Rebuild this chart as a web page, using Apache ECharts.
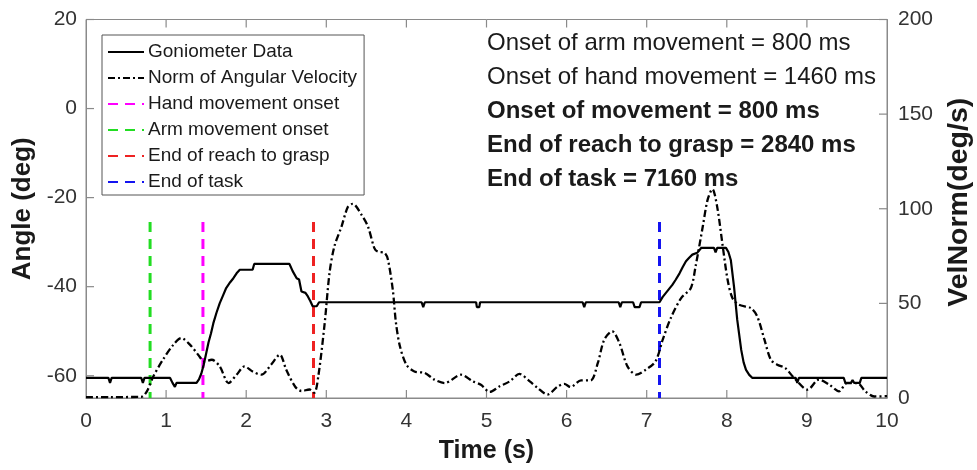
<!DOCTYPE html>
<html>
<head>
<meta charset="utf-8">
<script src="https://cdn.jsdelivr.net/npm/echarts@6/dist/echarts.min.js"></script>
<style>
  html, body { margin: 0; padding: 0; background: #fff; }
  #chart { width: 977px; height: 470px; }
</style>
</head>
<body>
<div id="chart"></div>
<script>
// goniometer angle (deg), left axis
var gonioT = [0, 0.28, 0.30, 0.32, 0.69, 0.71, 0.73, 1.05, 1.08, 1.10, 1.11, 1.13, 1.38, 1.41, 1.44, 1.47, 1.50, 1.53, 1.56, 1.59, 1.63, 1.67, 1.71, 1.75, 1.80, 1.84, 1.88, 1.92, 2.08, 2.10, 2.54, 2.58, 2.63, 2.66, 2.69, 2.74, 2.77, 2.80, 2.83, 2.88, 2.91,
  4.19, 4.21, 4.23, 4.87, 4.88, 4.91, 4.92, 6.20, 6.22, 6.24, 6.65, 6.67, 6.69, 6.83, 6.85, 6.91, 6.93, 7.16,
  7.20, 7.24, 7.28, 7.32, 7.36, 7.41, 7.45, 7.49, 7.53, 7.57, 7.63, 7.68, 7.84, 7.86, 7.88, 7.99, 8.02, 8.05, 8.09, 8.13, 8.18, 8.21, 8.24, 8.28, 8.32,
  8.86, 8.88, 8.90, 9.46, 9.48, 9.55, 9.57, 9.59, 9.66, 9.68, 10.0];
var gonioA = [-60.5, -60.5, -61.6, -60.5, -60.5, -61.6, -60.5, -60.5, -61.6, -61.6, -62.5, -61.6, -61.6, -60.8, -59.5, -57.5, -55, -52.5, -50.5, -48.2, -45.8, -43.7, -42, -40.3, -39, -38.1, -37, -36.2, -36.2, -34.9, -34.9, -36.5, -38.1, -38.4, -41.1, -41.4, -42.2, -43.2, -44.4, -44.4, -43.5,
  -43.5, -44.6, -43.5, -43.5, -44.6, -44.6, -43.5, -43.5, -44.6, -43.5, -43.5, -44.6, -43.5, -43.5, -44.6, -44.6, -43.5, -43.5,
  -42.3, -41.4, -40.5, -39.6, -38.5, -37, -35.6, -34.3, -33.5, -32.8, -32.4, -31.3, -31.3, -32.3, -31.3, -31.3, -32.2, -34, -40, -47.4, -54.2, -57, -58.7, -59.8, -60.5,
  -60.5, -61.6, -60.5, -60.5, -61.6, -61.6, -61, -61.6, -61.6, -60.5, -60.5];

// norm of angular velocity (deg/s), right axis
var velT = [0, 0.3, 0.69, 0.76, 0.84, 0.96, 1.09, 1.19, 1.30, 1.40, 1.48, 1.57, 1.67, 1.78, 1.88, 1.98, 2.08, 2.19, 2.31, 2.42, 2.50, 2.61, 2.69, 2.79, 2.85, 2.90, 2.98, 3.04, 3.10, 3.19, 3.27, 3.33, 3.44, 3.52, 3.60, 3.64, 3.73, 3.77, 3.83, 3.87, 3.92, 4.00, 4.10, 4.23, 4.35, 4.48, 4.68, 4.83, 4.93, 5.04, 5.16, 5.29, 5.41, 5.54, 5.64, 5.76, 5.89, 5.97, 6.05, 6.18, 6.30, 6.39, 6.47, 6.57, 6.66, 6.76, 6.87, 6.99, 7.11, 7.20, 7.30, 7.43, 7.55, 7.61, 7.70, 7.76, 7.82, 7.88, 7.95, 8.01, 8.07, 8.15, 8.30, 8.38, 8.47, 8.55, 8.63, 8.73, 8.84, 9.01, 9.15, 9.28, 9.40, 9.50, 9.63, 9.73, 9.84, 10.0];
var velV = [0.5, 0.5, 0.6, 3.5, 11.4, 20.2, 28.1, 31.7, 28.1, 22.9, 19.3, 20.2, 16.7, 7.9, 12.3, 16.7, 14, 12.3, 17.6, 22.9, 14.9, 6.1, 3.7, 4.5, 2.8, 11.4, 39.6, 66, 80, 90.6, 101, 102.6, 96.8, 90.6, 79.2, 77.4, 76.6, 73, 57.2, 39.6, 27.2, 17.6, 14, 13.2, 9.7, 7.9, 12.3, 8.8, 7, 3.2, 6.1, 8.8, 12.7, 8.8, 5.3, 1.8, 6.1, 7.5, 5.8, 9.3, 9.3, 18.5, 30.8, 35.2, 29, 16.7, 12.3, 15, 19.3, 30.8, 42.2, 52.8, 58, 69.5, 90.6, 104.7, 110.4, 101, 80, 62.5, 52.8, 49.3, 47.5, 43.1, 30.8, 20.2, 17.6, 15.8, 10.6, 4.4, 9.7, 7, 3.5, 7.9, 7.9, 3.5, 0.8, 1];

// event markers (s)
var markerNames = ['Hand movement onset', 'Arm movement onset', 'End of reach to grasp', 'End of task'];
var markerTimes = [1.46, 0.8, 2.84, 7.16];
var markerColors = ['#ff00ff', '#22dd22', '#ee2222', '#1414f0'];
var markerTop = -25.5;

// tick positions (inward ticks, matlab style)
var timeTicks = [1, 2, 3, 4, 5, 6, 7, 8, 9];
var angleTicks = [-60, -40, -20, 0, 20];
var velTicks = [0, 50, 100, 150, 200];

var infoLines = [
    'Onset of arm movement = 800 ms',
    'Onset of hand movement = 1460 ms',
    'Onset of movement = 800 ms',
    'End of reach to grasp = 2840 ms',
    'End of task = 7160 ms'
];
var infoBold = [false, false, true, true, true];

var FONT = '"Liberation Sans", Arial, sans-serif';
var axisGray = '#8a8a8a';
var TICK = 8;
var chart = echarts.init(document.getElementById('chart'));

var series = [
    {
        name: 'Goniometer Data',
        type: 'line',
        yAxisIndex: 0,
        symbol: 'none',
        data: gonioT.map(function (t, i) { return [t, gonioA[i]]; }),
        lineStyle: { color: '#000', width: 2.2 },
        itemStyle: { color: '#000' },
        z: 4
    },
    {
        name: 'Norm of Angular Velocity',
        type: 'line',
        yAxisIndex: 1,
        symbol: 'none',
        smooth: 0.3,
        data: velT.map(function (t, i) { return [t, velV[i]]; }),
        lineStyle: { color: '#000', width: 2.3, type: [7, 3, 2, 3] },
        itemStyle: { color: '#000' },
        z: 3
    }
];
markerNames.forEach(function (n, i) {
    series.push({
        name: n,
        type: 'line',
        yAxisIndex: 0,
        symbol: 'none',
        data: [[markerTimes[i], markerTop], [markerTimes[i], -65]],
        lineStyle: { color: markerColors[i], width: 3, type: [10, 7] },
        itemStyle: { color: markerColors[i] },
        z: 2
    });
});

// tick marks drawn through the axes' own scales
function tickSeries(yIdx, data, draw) {
    return {
        type: 'custom', yAxisIndex: yIdx, silent: true, clip: false, z: 1,
        data: data,
        renderItem: function (params, api) {
            var p = api.coord([api.value(0), api.value(1)]);
            var d = draw(p);
            return {
                type: 'line',
                shape: { x1: d[0], y1: d[1], x2: d[2], y2: d[3] },
                style: { stroke: axisGray, lineWidth: 1.2 }
            };
        }
    };
}
series.push(tickSeries(0, angleTicks.map(function (v) { return [0, v]; }),
    function (p) { return [p[0], p[1], p[0] + TICK, p[1]]; }));
series.push(tickSeries(1, velTicks.map(function (v) { return [10, v]; }),
    function (p) { return [p[0], p[1], p[0] - TICK, p[1]]; }));
series.push(tickSeries(0, timeTicks.map(function (t) { return [t, -65]; }),
    function (p) { return [p[0], p[1], p[0], p[1] - TICK]; }));
series.push(tickSeries(0, timeTicks.map(function (t) { return [t, 20]; }),
    function (p) { return [p[0], p[1], p[0], p[1] + TICK]; }));

var graphics = infoLines.map(function (s, i) {
    return {
        type: 'text',
        x: 487,
        y: 43 + i * 34.2,
        style: {
            text: s,
            font: (infoBold[i] ? 'bold ' : '') + '24px ' + FONT,
            fill: '#1a1a1a',
            verticalAlign: 'middle'
        }
    };
});

option = {
    animation: false,
    backgroundColor: '#fff',
    grid: {
        left: 86, right: 90, top: 19.5, bottom: 72,
        show: true, borderColor: axisGray, borderWidth: 1,
        outerBoundsMode: 'none'
    },
    legend: {
        orient: 'vertical',
        left: 102, top: 35,
        padding: [7, 7, 3, 5],
        itemWidth: 36, itemHeight: 14, itemGap: 6,
        backgroundColor: '#fff',
        borderColor: '#555', borderWidth: 1, borderRadius: 0,
        itemStyle: { opacity: 0 },
        data: ['Goniometer Data', 'Norm of Angular Velocity'].concat(markerNames),
        textStyle: { fontFamily: FONT, fontSize: 19, color: '#1a1a1a', lineHeight: 20, padding: [0, 0, 0, -1] }
    },
    xAxis: {
        type: 'value', min: 0, max: 10, interval: 1,
        name: 'Time (s)', nameLocation: 'middle', nameGap: 41,
        nameTextStyle: { fontFamily: FONT, fontSize: 25, fontWeight: 'bold', color: '#1a1a1a' },
        axisLine: { show: true, onZero: false, lineStyle: { color: axisGray } },
        axisTick: { show: false },
        axisLabel: { fontFamily: FONT, fontSize: 21, color: '#333', margin: 13 },
        splitLine: { show: false }
    },
    yAxis: [
        {
            // no interval: labels fall on -60,-40,...,20; the min (-65) label is hidden
            type: 'value', min: -65, max: 20, position: 'left',
            name: 'Angle (deg)', nameLocation: 'middle', nameGap: 45, nameRotate: 90,
            nameTextStyle: { fontFamily: FONT, fontSize: 26, fontWeight: 'bold', color: '#1a1a1a' },
            axisLine: { show: true, onZero: false, lineStyle: { color: axisGray } },
            axisTick: { show: false },
            axisLabel: { fontFamily: FONT, fontSize: 21, color: '#333', margin: 9, showMinLabel: false },
            splitLine: { show: false }
        },
        {
            type: 'value', min: 0, max: 200, interval: 50, position: 'right',
            name: 'VelNorm(deg/s)', nameLocation: 'middle', nameGap: 58, nameRotate: 90,
            nameTextStyle: { fontFamily: FONT, fontSize: 28.5, fontWeight: 'bold', color: '#1a1a1a', padding: [0, 0, 0, 13] },
            axisLine: { show: true, onZero: false, lineStyle: { color: axisGray } },
            axisTick: { show: false },
            axisLabel: { fontFamily: FONT, fontSize: 21, color: '#333', margin: 11 },
            splitLine: { show: false }
        }
    ],
    graphic: graphics,
    series: series
};

chart.setOption(option);
</script>
</body>
</html>
